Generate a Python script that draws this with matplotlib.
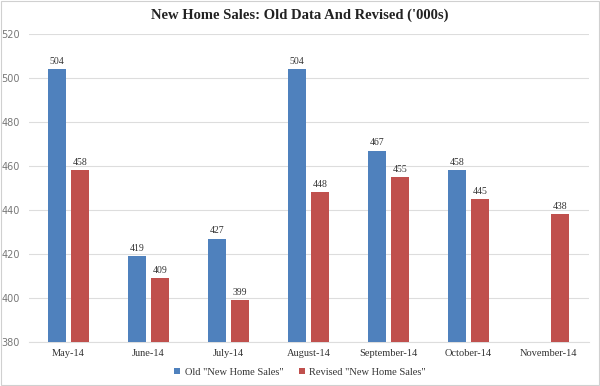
import matplotlib.pyplot as plt
import numpy as np

months = ['May-14', 'June-14', 'July-14', 'August-14', 'September-14', 'October-14', 'November-14']
old_sales = [504, 419, 427, 504, 467, 458, np.nan]
revised_sales = [458, 409, 399, 448, 455, 445, 438]
y_ticks = [380, 400, 420, 440, 460, 480, 500, 520]

blue = '#4F81BD'
red = '#C0504D'
serif = ['Liberation Serif', 'DejaVu Serif']

fig = plt.figure(figsize=(6, 3.86), dpi=100)
ax = fig.add_axes([0.0475, 0.114, 0.9335, 0.798])

x = np.arange(len(months))
w = 0.225
off = 0.144
b1 = ax.bar(x - off, old_sales, w, color=blue, label='Old "New Home Sales"', zorder=3)
b2 = ax.bar(x + off, revised_sales, w, color=red, label='Revised "New Home Sales"', zorder=3)

# value labels above each bar
for i, v in enumerate(old_sales):
    if not np.isnan(v):
        ax.text(x[i] - off, v + 1.5, f'{int(v)}', ha='center', va='bottom',
                fontsize=7, family=serif, color='#333333')
for i, v in enumerate(revised_sales):
    ax.text(x[i] + off, v + 1.5, f'{int(v)}', ha='center', va='bottom',
            fontsize=7, family=serif, color='#333333')

ax.set_xlim(-0.5, len(months) - 0.5)
ax.set_ylim(380, 520)
ax.set_yticks(y_ticks)
ax.set_xticks(x)
ax.set_xticklabels(months, family=serif, fontsize=7.5, color='#333333')
ax.tick_params(axis='y', labelsize=7, labelcolor='#777777', length=0, pad=6)
ax.tick_params(axis='x', length=0, pad=5)
ax.grid(axis='y', color='#dddddd', linewidth=0.8, zorder=0)
for s in ['top', 'right', 'left']:
    ax.spines[s].set_visible(False)
ax.spines['bottom'].set_color('#dddddd')
ax.spines['bottom'].set_linewidth(0.8)

fig.suptitle("New Home Sales: Old Data And Revised ('000s)", y=0.978,
             fontsize=10.5, fontweight='bold', family=serif, color='#222222')

leg = fig.legend(handles=[b1, b2], loc='center', bbox_to_anchor=(0.5, 0.036), ncol=2,
                 frameon=False, prop={'family': serif, 'size': 7.5}, handlelength=0.6,
                 handleheight=0.6, handletextpad=0.4, columnspacing=1.5)
for t in leg.get_texts():
    t.set_color('#333333')

fig.patches.append(plt.Rectangle((0.002, 0.002), 0.996, 0.996, transform=fig.transFigure,
                                 fill=False, edgecolor='#d0d0d0', linewidth=0.8))

fig.savefig('out.png', dpi=100)
